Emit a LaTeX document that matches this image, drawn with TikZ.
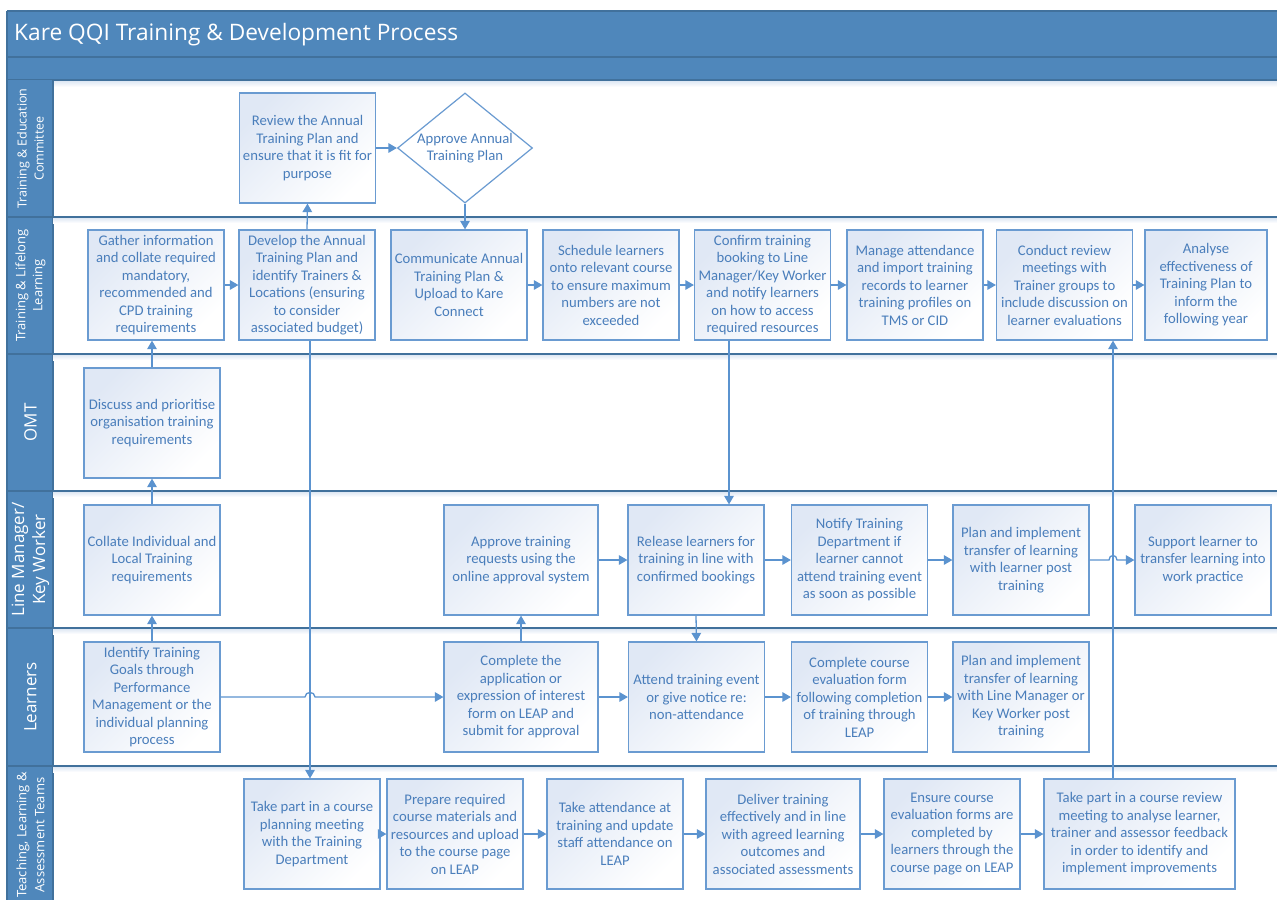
\documentclass[tikz,border=0pt]{standalone}
\usepackage{fontspec}
\setmainfont{Carlito}
\newfontfamily\lanefont{Open Sans}
\usetikzlibrary{arrows.meta,shapes.geometric}
\definecolor{band}{HTML}{4F87BB}
\definecolor{sep}{HTML}{41719C}
\definecolor{boxline}{HTML}{6A9BD1}
\definecolor{boxtext}{HTML}{4A7EBB}
\definecolor{arr}{HTML}{5B93CF}
\definecolor{boxfill}{HTML}{E0E8F5}
\definecolor{shadowc}{HTML}{D9E4F2}
\begin{document}
\begin{tikzpicture}[x=1pt,y=-1pt,
  proc/.style={draw=boxline, line width=1.2pt, top color=boxfill, bottom color=white, shading angle=45,
    minimum width=136pt, minimum height=110pt, align=center, inner sep=1pt, text=boxtext,
    font=\fontsize{14.7}{17.5}\selectfont},
  dtext/.style={align=center, text=boxtext, font=\fontsize{14.7}{17.5}\selectfont},
  flow/.style={draw=arr, line width=1.3pt, -{Triangle[length=8.5pt,width=9.5pt]}},
  lane/.style={rotate=90, text=white, align=center, inner sep=0pt},
  sepline/.style={draw=sep, line width=1.4pt},
  shadowband/.style={top color=shadowc, bottom color=white, draw=none},
]
% canvas
\fill[white] (0,0) rectangle (1277,900);
\useasboundingbox (0,0) rectangle (1277,900);

% header bands
\fill[band] (7,11) rectangle (1277,80);
\shade[shadowband] (7,80) rectangle (1277,87);
\draw[sepline] (7,11) -- (1277,11);
\draw[sepline] (7,57) -- (1277,57);
\draw[sepline] (7,80) -- (1277,80);
\node[anchor=west, text=white, font=\lanefont\fontsize{22.7}{26}\selectfont, inner sep=0pt] (title) at (14,35) {Kare QQI Training \& Development Process};

% lane label column
\fill[band] (7,80) rectangle (53,900);
\draw[sepline] (7,11) -- (7,900);
\draw[sepline] (53,80) -- (53,900);

% lane separators with shadow
\foreach \yy in {217,354,491,628,766}{
  \shade[shadowband] (53,\yy) rectangle (1277,\yy+6);
  \draw[sepline] (7,\yy) -- (1277,\yy);
}

% lane labels
\node[lane, font=\lanefont\fontsize{12.5}{17}\selectfont] (l1) at (30.5,148.5) {Training \& Education\\Committee};
\node[lane, font=\lanefont\fontsize{13}{17}\selectfont] (l2) at (30.5,285.5) {Training \& Lifelong\\Learning};
\node[lane, font=\lanefont\fontsize{17}{21}\selectfont] (l3) at (30.5,422.5) {OMT};
\node[lane, font=\lanefont\fontsize{17}{21}\selectfont] (l4) at (30.5,559.5) {Line Manager/\\Key Worker};
\node[lane, font=\lanefont\fontsize{17}{21}\selectfont] (l5) at (30.5,697) {Learners};
\node[lane, font=\lanefont\fontsize{13}{18}\selectfont] (l6) at (30.5,835) {Teaching, Learning \&\\Assessment Teams};

% lane 1
\node[proc] (review) at (307.5,148) {Review the Annual\\Training Plan and\\ensure that it is fit for\\purpose};
\node[draw=boxline, line width=1.2pt, diamond, minimum width=135pt, minimum height=110pt, inner sep=0pt] (appr) at (465,148) {};
\node[dtext] (apprt) at (appr.center) {Approve Annual\\Training Plan};

% lane 2
\node[proc] (gather) at (156,285) {Gather information\\and collate required\\mandatory,\\recommended and\\CPD training\\requirements};
\node[proc] (develop) at (307,285) {Develop the Annual\\Training Plan and\\identify Trainers \&\\Locations (ensuring\\to consider\\associated budget)};
\node[proc] (comm) at (459,285) {Communicate Annual\\Training Plan \&\\Upload to Kare\\Connect};
\node[proc] (sched) at (611,285) {Schedule learners\\onto relevant course\\to ensure maximum\\numbers are not\\exceeded};
\node[proc] (confirm) at (762.5,285) {Confirm training\\booking to Line\\Manager/Key Worker\\and notify learners\\on how to access\\required resources};
\node[proc] (manage) at (915,285) {Manage attendance\\and import training\\records to learner\\training profiles on\\TMS or CID};
\node[proc] (conduct) at (1064.5,285) {Conduct review\\meetings with\\Trainer groups to\\include discussion on\\learner evaluations};
\node[proc, minimum width=122pt] (analyse) at (1206,285) {Analyse\\effectiveness of\\Training Plan to\\inform the\\following year};

% lane 3
\node[proc] (discuss) at (152,423) {Discuss and prioritise\\organisation training\\requirements};

% lane 4
\node[proc] (collate) at (152,560) {Collate Individual and\\Local Training\\requirements};
\node[proc, minimum width=154pt] (approvetr) at (521,560) {Approve training\\requests using the\\online approval system};
\node[proc] (release) at (696,560) {Release learners for\\training in line with\\confirmed bookings};
\node[proc] (notify) at (859.5,560) {Notify Training\\Department if\\learner cannot\\attend training event\\as soon as possible};
\node[proc] (planlm) at (1021,560) {Plan and implement\\transfer of learning\\with learner post\\training};
\node[proc] (support) at (1203,560) {Support learner to\\transfer learning into\\work practice};

% lane 5
\node[proc] (identify) at (152,697) {Identify Training\\Goals through\\Performance\\Management or the\\individual planning\\process};
\node[proc, minimum width=154pt] (complete) at (521,697) {Complete the\\application or\\expression of interest\\form on LEAP and\\submit for approval};
\node[proc] (attend) at (696.5,697) {Attend training event\\or give notice re:\\non-attendance};
\node[proc] (evalform) at (859.5,697) {Complete course\\evaluation form\\following completion\\of training through\\LEAP};
\node[proc] (planl) at (1021,697) {Plan and implement\\transfer of learning\\with Line Manager or\\Key Worker post\\training};

% lane 6
\node[proc] (planmeet) at (312,834) {Take part in a course\\planning meeting\\with the Training\\Department};
\node[proc] (prepare) at (455,834) {Prepare required\\course materials and\\resources and upload\\to the course page\\on LEAP};
\node[proc] (takeatt) at (615,834) {Take attendance at\\training and update\\staff attendance on\\LEAP};
\node[proc, minimum width=154pt] (deliver) at (783,834) {Deliver training\\effectively and in line\\with agreed learning\\outcomes and\\associated assessments};
\node[proc] (ensure) at (952,834) {Ensure course\\evaluation forms are\\completed by\\learners through the\\course page on LEAP};
\node[proc, minimum width=191pt] (review2) at (1139.5,834) {Take part in a course review\\meeting to analyse learner,\\trainer and assessor feedback\\in order to identify and\\implement improvements};

% helper coordinates for vertical connector lines
\coordinate (xdev) at (310,0);
\coordinate (xconf) at (729,0);
\coordinate (xrev) at (1113,0);

% connectors lane 1/2
\draw[flow] (gather.east) -- (develop.west);
\draw[flow] (develop.north) -- (review.south);
\draw[flow] (review.east) -- (appr.west);
\draw[flow] (appr.south) -- (appr.south |- comm.north);
\draw[flow] (comm.east) -- (sched.west);
\draw[flow] (sched.east) -- (confirm.west);
\draw[flow] (confirm.east) -- (manage.west);
\draw[flow] (manage.east) -- (conduct.west);
\draw[flow] (conduct.east) -- (analyse.west);

% left column upwards
\draw[flow] (discuss.north) -- (discuss.north |- gather.south);
\draw[flow] (collate.north) -- (discuss.south);
\draw[flow] (identify.north) -- (collate.south);

% long vertical from Develop down to planning meeting
\draw[flow] (develop.south -| xdev) -- (planmeet.north -| xdev);

% identify -> complete with hop over vertical
\draw[flow] (identify.east) -- (305,697) .. controls (305,691) and (315,691) .. (315,697) -- (complete.west);

% lane 4/5 connectors
\draw[flow] (complete.north) -- (approvetr.south);
\draw[flow] (approvetr.east) -- (release.west);
\draw[flow] (confirm.south -| xconf) -- (release.north -| xconf);
\draw[flow] (release.south) -- (attend.north);
\draw[flow] (complete.east) -- (attend.west);
\draw[flow] (release.east) -- (notify.west);
\draw[flow] (notify.east) -- (planlm.west);
\draw[flow] (planlm.east) -- (1109,560) .. controls (1109,554) and (1117,554) .. (1117,560) -- (support.west);
\draw[flow] (attend.east) -- (evalform.west);
\draw[flow] (evalform.east) -- (planl.west);

% lane 6 connectors
\draw[flow] (planmeet.east) -- (prepare.west);
\draw[flow] (prepare.east) -- (takeatt.west);
\draw[flow] (takeatt.east) -- (deliver.west);
\draw[flow] (deliver.east) -- (ensure.west);
\draw[flow] (ensure.east) -- (review2.west);
\draw[flow] (review2.north -| xrev) -- (conduct.south -| xrev);
\end{tikzpicture}
\end{document}
